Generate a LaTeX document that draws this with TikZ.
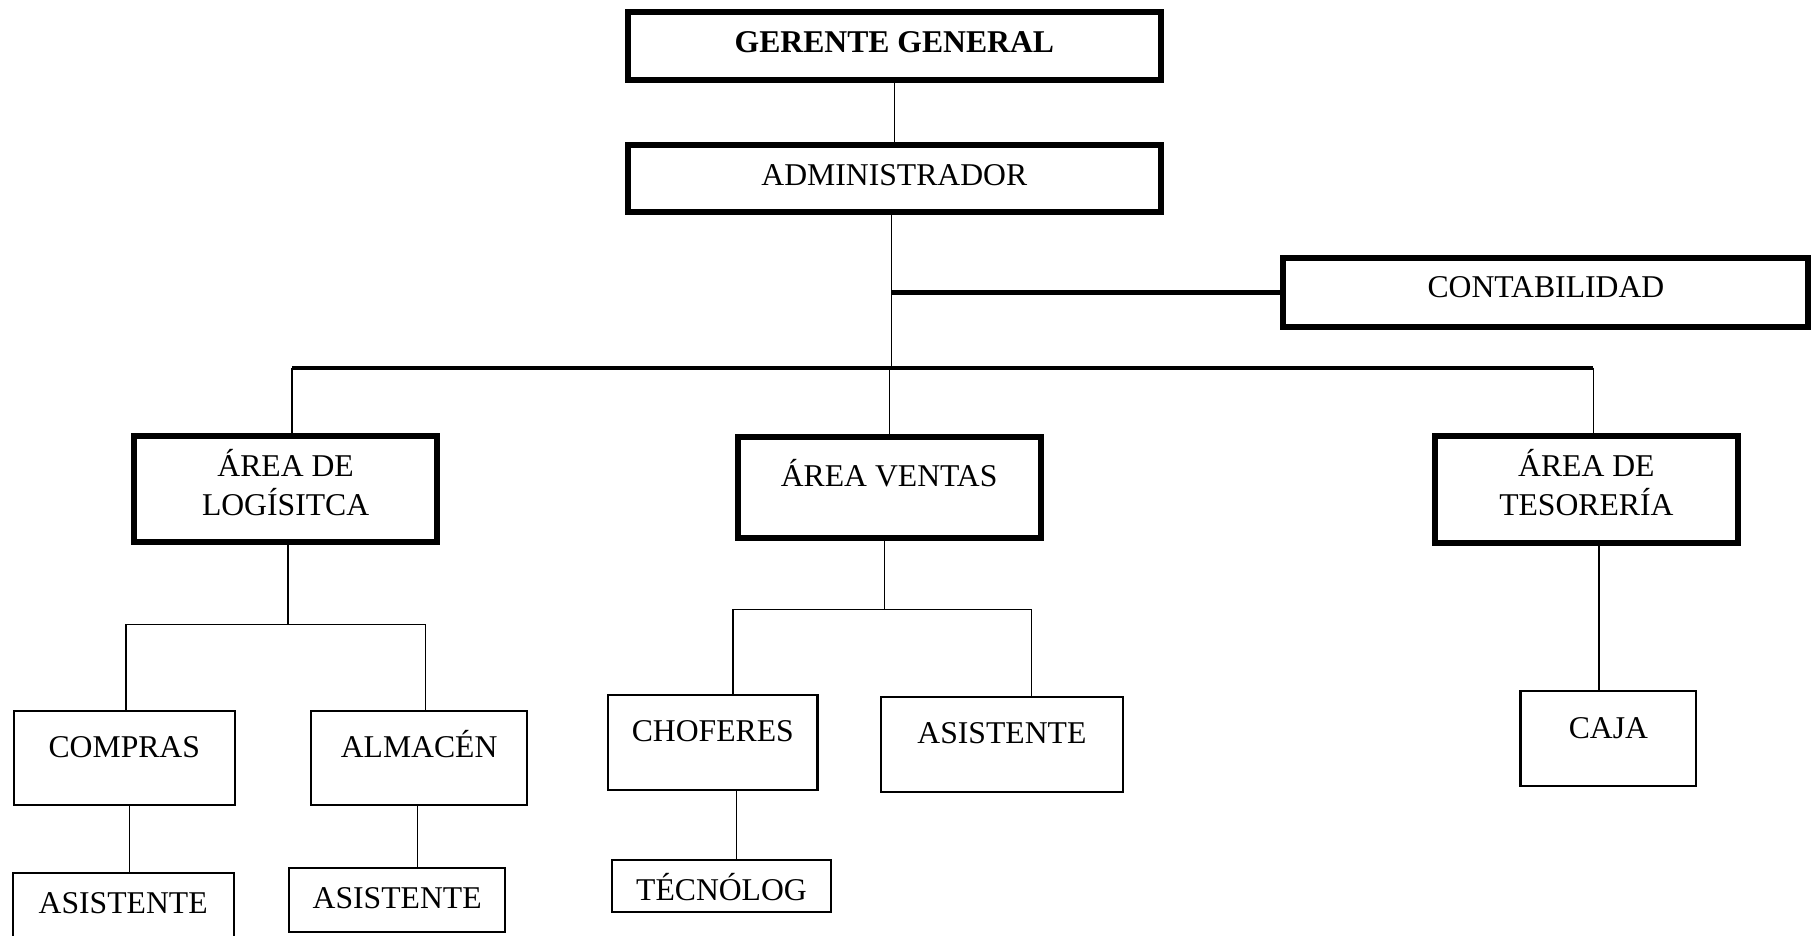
\documentclass[tikz,border=0pt]{standalone}
\usepackage{fontspec}
\setmainfont{Liberation Serif}
\usepackage{tikz}
\usetikzlibrary{positioning, calc}

\begin{document}
\begin{tikzpicture}[x=1pt, y=-1pt, font=\fontsize{27.4}{34}\selectfont,
        unit/.style={draw, rectangle, inner sep=0pt, outer sep=0pt},
        thickbox/.style={unit, line width=5.2pt},
        thinbox/.style={unit, line width=1.8pt},
        link/.style={line width=1.1pt},
        bus/.style={line width=3.6pt}]
        \useasboundingbox (0,0) rectangle (1568,809);
        \clip (0,0) rectangle (1568,809);

        % Nodes
        \node[thickbox, minimum width=461pt, text height=35pt, text depth=24pt] (gerente) at (773.5,39.5) {\textbf{GERENTE GENERAL}};
        \node[thickbox, minimum width=461pt, text height=35pt, text depth=23pt, below=56pt of gerente] (admin) {ADMINISTRADOR};
        \node[thickbox, minimum width=454pt, text height=34pt, text depth=26pt] (contab) at (1337,253) {CONTABILIDAD};

        \node[thickbox, align=center, minimum width=262pt, minimum height=92pt, text depth=12pt] (logist) at (247,423) {ÁREA DE\\LOGÍSITCA};
        \node[thickbox, minimum width=262pt, text height=43pt, text depth=44pt] (ventas) at (769,421.5) {ÁREA VENTAS};
        \node[thickbox, align=center, minimum width=262pt, minimum height=93pt, text depth=12pt] (tesor) at (1372,423.5) {ÁREA DE\\TESORERÍA};

        \node[thinbox, minimum width=191pt, text height=40pt, text depth=41pt] (compras) at (107.5,655.5) {COMPRAS};
        \node[thinbox, minimum width=187pt, text height=40pt, text depth=41pt] (almacen) at (362.5,655.5) {ALMACÉN};
        \node[thinbox, minimum width=181pt, text height=40pt, text depth=42pt] (choferes) at (616.5,642) {CHOFERES};
        \node[thinbox, minimum width=209pt, text height=40pt, text depth=42pt] (asistV) at (866.5,644) {ASISTENTE};
        \node[thinbox, minimum width=152pt, text height=41pt, text depth=41pt] (caja) at (1391,639) {CAJA};

        \node[thinbox, minimum width=191pt, text height=35pt, text depth=45pt] (asistC) at (106.5,795) {ASISTENTE};
        \node[thinbox, minimum width=187pt, text height=35pt, text depth=20pt] (asistA) at (343.5,778.5) {ASISTENTE};
        \node[thinbox, minimum width=190pt, text height=35pt, text depth=10pt] (tecnolog) at (624,766.5) {TÉCNÓLOG};

        % Junctions
        \coordinate (busL) at (252.5,318);
        \coordinate (busM) at (771,318);
        \coordinate (busR) at (1378,318);
        \coordinate (contJ) at (771,253);
        \coordinate (logJ) at (249,540);
        \coordinate (venJ) at (765,527);

        % Edges
        \draw[link] (gerente) -- (admin);
        \draw[link] (admin.south -| busM) -- (busM);
        \draw[bus] (contJ) -- (contab.west);
        \draw[bus] (busL) -- (busR);
        \draw[link] (busL) -- (busL |- logist.north);
        \draw[link] (busM -| ventas.north) -- (ventas.north);
        \draw[link] (busR) -- (busR |- tesor.north);

        \draw[link] (logist.south -| logJ) -- (logJ);
        \draw[link] ([xshift=1.5pt]compras.north) |- (logJ) -| ([xshift=5.5pt]almacen.north);
        \draw[link] ([xshift=4.5pt]compras.south) -- ([xshift=5.5pt]asistC.north);
        \draw[link] ([xshift=-1.5pt]almacen.south) -- ([xshift=17.5pt]asistA.north);

        \draw[link] (ventas.south -| venJ) -- (venJ);
        \draw[link] ([xshift=17.5pt]choferes.north) |- (venJ) -| ([xshift=25.5pt]asistV.north);
        \draw[link] ([xshift=20.5pt]choferes.south) -- ([xshift=13pt]tecnolog.north);

        \draw[link] ([xshift=11pt]tesor.south) -- ([xshift=-8pt]caja.north);
    \end{tikzpicture}
\end{document}
